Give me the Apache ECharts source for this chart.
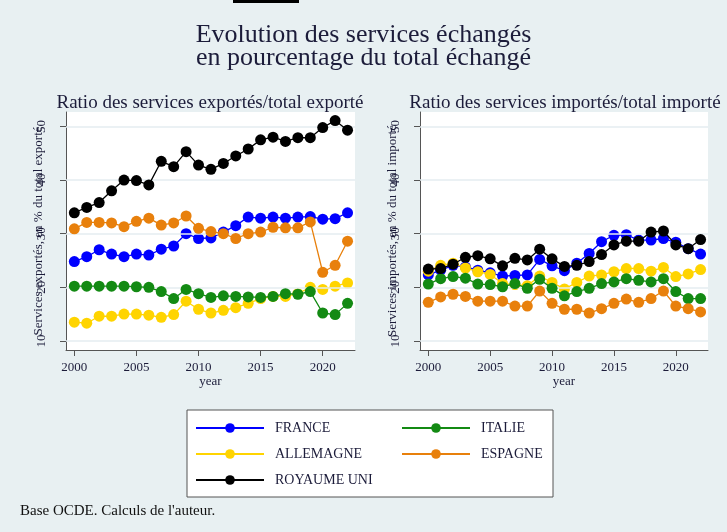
<!DOCTYPE html>
<html>
<head>
<meta charset="utf-8">
<script src="https://cdn.jsdelivr.net/npm/echarts@6/dist/echarts.min.js"></script>
<style>
  html, body { margin: 0; padding: 0; background: #e8f0f2; }
  #chart { width: 727px; height: 532px; }
</style>
</head>
<body>
<div id="chart"></div>
<script>
// years 2000..2022
const years = [2000, 2001, 2002, 2003, 2004, 2005, 2006, 2007, 2008, 2009, 2010,
  2011, 2012, 2013, 2014, 2015, 2016, 2017, 2018, 2019, 2020, 2021, 2022];
const yearTicks = [2000, 2005, 2010, 2015, 2020];
const valueTicks = [10, 20, 30, 40, 50];

const countries = ['FRANCE', 'ALLEMAGNE', 'ITALIE', 'ESPAGNE', 'ROYAUME UNI'];
// legend laid out in two columns
const legendCol1 = ['FRANCE', 'ALLEMAGNE', 'ROYAUME UNI'];
const legendCol2 = ['ITALIE', 'ESPAGNE'];

// services exportés / total exporté (%)
const exportFrance = [24.8, 25.7, 27.0, 26.2, 25.7, 26.2, 26.0, 27.1, 27.7, 30.0, 29.1, 29.2, 30.3, 31.5, 33.1, 32.9, 33.1, 32.9, 33.1, 33.2, 32.7, 32.8, 33.9];
const exportAllemagne = [13.5, 13.3, 14.6, 14.6, 15.0, 15.0, 14.8, 14.4, 14.9, 17.4, 15.9, 15.2, 15.7, 16.2, 17.0, 17.9, 18.3, 18.3, 18.8, 20.0, 19.6, 20.2, 20.8];
const exportItalie = [20.2, 20.2, 20.2, 20.2, 20.2, 20.1, 20.0, 19.2, 17.9, 19.6, 18.8, 18.1, 18.4, 18.3, 18.2, 18.1, 18.3, 18.8, 18.7, 19.2, 15.2, 14.9, 17.0];
const exportEspagne = [30.9, 32.1, 32.1, 32.0, 31.3, 32.3, 32.9, 31.6, 32.0, 33.3, 31.0, 30.4, 30.0, 29.1, 30.0, 30.3, 31.2, 31.1, 31.1, 32.2, 22.8, 24.1, 28.6];
const exportRoyaumeUni = [33.9, 34.9, 35.8, 38.0, 40.0, 39.9, 39.1, 43.5, 42.5, 45.3, 42.8, 42.0, 43.1, 44.5, 45.8, 47.5, 48.0, 47.2, 47.9, 47.9, 49.8, 51.1, 49.3];

// services importés / total importé (%)
const importFrance = [22.3, 23.2, 24.1, 23.8, 23.2, 22.7, 22.1, 22.2, 22.3, 25.2, 24.0, 23.1, 24.5, 26.3, 28.5, 29.7, 29.8, 28.8, 28.8, 29.1, 28.4, 27.2, 26.2];
const importAllemagne = [23.0, 24.1, 24.5, 23.6, 22.9, 22.4, 20.7, 20.5, 20.3, 22.1, 20.9, 19.7, 20.9, 22.1, 22.3, 22.9, 23.5, 23.5, 23.0, 23.7, 22.0, 22.5, 23.3];
const importItalie = [20.6, 21.6, 22.0, 21.7, 20.6, 20.5, 20.1, 20.7, 19.8, 21.5, 19.8, 18.4, 19.2, 19.8, 20.7, 21.0, 21.6, 21.3, 21.0, 21.6, 19.2, 17.9, 17.9];
const importEspagne = [17.2, 18.2, 18.7, 18.3, 17.4, 17.4, 17.4, 16.5, 16.5, 19.3, 17.0, 15.9, 15.9, 15.2, 16.0, 17.0, 17.8, 17.2, 17.9, 19.3, 16.5, 16.0, 15.4];
const importRoyaumeUni = [23.4, 23.5, 24.3, 25.6, 25.9, 25.3, 24.0, 25.4, 25.1, 27.1, 25.3, 23.9, 24.1, 24.8, 26.1, 27.9, 28.6, 28.6, 30.3, 30.5, 27.9, 27.2, 28.9];

const exportData = [exportFrance, exportAllemagne, exportItalie, exportEspagne, exportRoyaumeUni];
const importData = [importFrance, importAllemagne, importItalie, importEspagne, importRoyaumeUni];
const colors = ['#0000ff', '#ffd400', '#138a13', '#e8800c', '#000000'];

const serif = 'Liberation Serif';
const textColor = '#1c1c3a';

const makeXAxis = (gridIndex) => ({
  gridIndex,
  type: 'value',
  min: 1999.33,
  max: 2022.6,
  name: 'year',
  nameLocation: 'middle',
  nameGap: 25,
  nameMoveOverlap: false,
  nameTextStyle: { fontFamily: serif, fontSize: 13, color: textColor },
  axisLine: { show: true, lineStyle: { color: '#555', width: 1 } },
  axisTick: { show: true, length: 6, lineStyle: { color: '#555' }, customValues: yearTicks },
  axisLabel: {
    customValues: yearTicks,
    formatter: (v) => String(v),
    fontFamily: serif, fontSize: 13, color: textColor, margin: 11,
  },
  splitLine: { show: false },
});

const makeYAxis = (gridIndex, name) => ({
  gridIndex,
  type: 'value',
  min: 8.3,
  max: 52.7,
  name,
  nameLocation: 'middle',
  nameRotate: 90,
  nameGap: 21,
  nameMoveOverlap: false,
  nameTextStyle: { fontFamily: serif, fontSize: 13, color: textColor },
  axisLine: { show: true, lineStyle: { color: '#555', width: 1 } },
  axisTick: { show: true, length: 6, lineStyle: { color: '#555' }, customValues: valueTicks },
  axisLabel: { customValues: valueTicks, rotate: 90, fontFamily: serif, fontSize: 13, color: textColor, margin: 18 },
  splitLine: { show: false },
});

const series = [];
[exportData, importData].forEach((panel, gi) => {
  panel.forEach((vals, ci) => {
    series.push({
      name: countries[ci],
      type: 'line',
      xAxisIndex: gi,
      yAxisIndex: gi,
      z: 3 + ci,
      symbol: 'circle',
      symbolSize: 11,
      showSymbol: true,
      color: colors[ci],
      lineStyle: { width: 1.3 },
      emphasis: { disabled: true },
      animation: false,
      data: years.map((y, i) => [y, vals[i]]),
      // faint horizontal grid lines at the tick values
      markLine: ci === 0 ? {
        silent: true,
        symbol: 'none',
        label: { show: false },
        lineStyle: { color: '#e4edf0', width: 1.5, type: 'solid' },
        data: valueTicks.map((v) => ({ yAxis: v })),
        animation: false,
      } : undefined,
    });
  });
});

const legendBase = {
  orient: 'vertical',
  top: 416,
  itemWidth: 68,
  itemHeight: 12,
  itemGap: 12,
  selectedMode: false,
  textStyle: { fontFamily: serif, fontSize: 14, color: textColor, padding: [0, 0, 0, 6] },
};

const chart = echarts.init(document.getElementById('chart'));
chart.setOption({
  backgroundColor: '#e8f0f2',
  animation: false,
  title: [
    {
      text: 'Evolution des services échangés\nen pourcentage du total échangé',
      left: 'center',
      top: 19,
      textStyle: { fontFamily: serif, fontSize: 26, lineHeight: 23, fontWeight: 'normal', color: textColor },
    },
    {
      text: 'Ratio des services exportés/total exporté',
      left: 205, top: 89, textAlign: 'center',
      textStyle: { fontFamily: serif, fontSize: 19, fontWeight: 'normal', color: textColor },
    },
    {
      text: 'Ratio des services importés/total importé',
      left: 560, top: 89, textAlign: 'center',
      textStyle: { fontFamily: serif, fontSize: 19, fontWeight: 'normal', color: textColor },
    },
    {
      text: "Base OCDE. Calculs de l'auteur.",
      left: 15, top: 499,
      textStyle: { fontFamily: serif, fontSize: 15, fontWeight: 'normal', color: '#111' },
    },
  ],
  graphic: [
    { type: 'rect', shape: { x: 233, y: 0, width: 66, height: 3 }, style: { fill: '#000' } },
    { type: 'rect', shape: { x: 187, y: 410, width: 366, height: 87 }, style: { fill: '#fff', stroke: '#555', lineWidth: 1 }, z: 0 },
  ],
  legend: [
    Object.assign({}, legendBase, { data: legendCol1, left: 190 }),
    Object.assign({}, legendBase, { data: legendCol2, left: 396 }),
  ],
  grid: [
    { left: 66, top: 112, width: 289, height: 238, show: true, backgroundColor: '#fff', borderWidth: 0 },
    { left: 420, top: 112, width: 288, height: 238, show: true, backgroundColor: '#fff', borderWidth: 0 },
  ],
  xAxis: [makeXAxis(0), makeXAxis(1)],
  yAxis: [
    makeYAxis(0, 'Services exportés, en % du total exporté'),
    makeYAxis(1, 'Services importés, en % du total importé'),
  ],
  series,
});
</script>
</body>
</html>
